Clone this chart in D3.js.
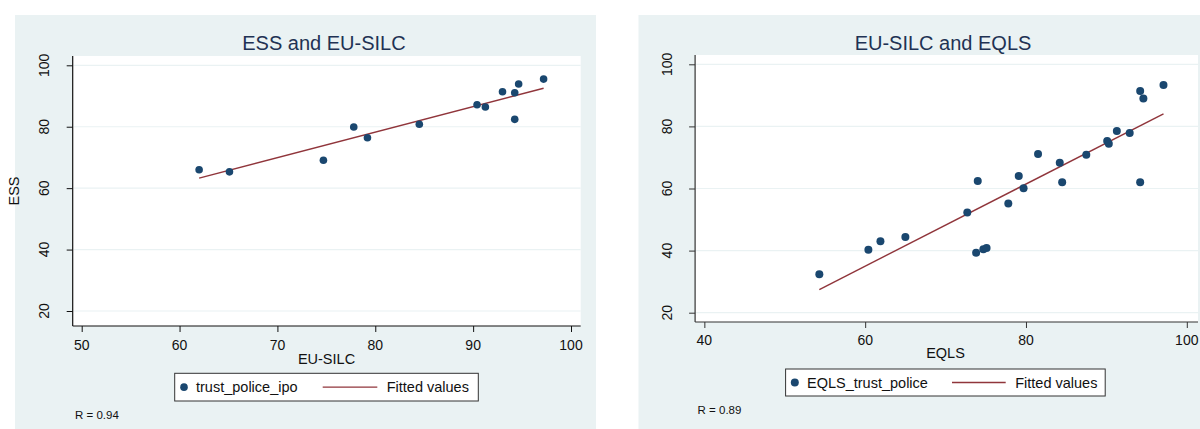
<!DOCTYPE html>
<html>
<head>
<meta charset="utf-8">
<script src="https://cdn.jsdelivr.net/npm/d3@7"></script>
<style>
  html, body { margin: 0; padding: 0; background: #ffffff; }
  svg { display: block; font-family: "Liberation Sans", Arial, sans-serif; }
</style>
</head>
<body>
<svg id="chart" width="1200" height="429"></svg>
<script>
// ---------- DATA ----------
// Panel 1: ESS vs EU-SILC
const silcX = [62.0, 65.1, 74.7, 77.8, 79.2, 84.5, 90.4, 91.25, 93.0, 94.25, 94.65, 94.25, 97.2];
const essY  = [66.0, 65.3, 69.1, 79.9, 76.4, 80.8, 87.15, 86.4, 91.4, 91.05, 93.9, 82.4, 95.5];
// Panel 2: EU-SILC vs EQLS
const eqlsX = [54.3, 60.4, 61.9, 65.0, 72.7, 74.0, 73.8, 74.7, 75.1, 77.8, 79.1, 79.7,
               84.2, 84.5, 94.2, 81.5, 87.5, 90.1, 90.3, 91.3, 92.9, 94.2, 94.6, 97.1];
const silcY = [32.4, 40.3, 43.0, 44.4, 52.3, 62.4, 39.3, 40.4, 40.8, 55.2, 64.0, 60.1,
               68.3, 62.0, 62.0, 71.1, 70.9, 75.3, 74.4, 78.5, 77.9, 91.4, 89.0, 93.3];

const yTicks = [20, 40, 60, 80, 100];
const xTicks1 = [50, 60, 70, 80, 90, 100];
const xTicks2 = [40, 60, 80, 100];

const titles = ["ESS and EU-SILC", "EU-SILC and EQLS"];
const xTitles = ["EU-SILC", "EQLS"];
const yTitles = ["ESS", ""];
const legendLabels = [["trust_police_ipo", "Fitted values"], ["EQLS_trust_police", "Fitted values"]];
const rTexts = ["R = 0.94", "R = 0.89"];

// ---------- STYLE ----------
const BG = "#eaf2f3";
const NAVY = "#1a476f";
const MAROON = "#90353b";
const TITLE = "#1f3254";

const svg = d3.select("#chart");

function fit(xs, ys) {
  const mx = d3.mean(xs), my = d3.mean(ys);
  let sxy = 0, sxx = 0;
  xs.forEach((x, i) => { sxy += (x - mx) * (ys[i] - my); sxx += (x - mx) * (x - mx); });
  const b = sxy / sxx, a = my - b * mx;
  return x => a + b * x;
}

const panels = [
  {
    xs: silcX, ys: essY, xTicks: xTicks1,
    bg: [15, 15, 596, 429],
    plot: [72.7, 56, 580.7, 326],
    xDom: [50, 100], xRng: [81.7, 571],
    yDom: [20, 100], yRng: [311, 65.3],
    titleX: 324, titleY: 49.5,
    tickLabelY: 349.5, xTitleX: 326.5, xTitleY: 363.5,
    yLabelX: 49, yTitleX: 18.5,
    legend: [174.7, 373.3, 478.3, 401], legMarkX: 184, legText1: 196, legLine: [322.7, 377.3], legText2: 386.7,
    rX: 75, rY: 419,
    r: 3.8, axisColor: "#111"
  },
  {
    xs: eqlsX, ys: silcY, xTicks: xTicks2,
    bg: [638.5, 15, 1200, 429],
    plot: [695.1, 55, 1198, 322],
    xDom: [40, 100], xRng: [704.35, 1186.8],
    yDom: [20, 100], yRng: [312.7, 64.3],
    titleX: 943, titleY: 49.5,
    tickLabelY: 344.5, xTitleX: 945.5, xTitleY: 358,
    yLabelX: 671.5, yTitleX: null,
    legend: [785.6, 369, 1105.2, 396], legMarkX: 794.8, legText1: 807, legLine: [952, 1005.7], legText2: 1015.2,
    rX: 697.6, rY: 413.5,
    r: 4, axisColor: "#333"
  }
];

panels.forEach((p, k) => {
  const g = svg.append("g");
  // panel background
  g.append("rect").attr("x", p.bg[0]).attr("y", p.bg[1])
    .attr("width", p.bg[2] - p.bg[0]).attr("height", p.bg[3] - p.bg[1]).attr("fill", BG);
  // plot region
  g.append("rect").attr("x", p.plot[0]).attr("y", p.plot[1])
    .attr("width", p.plot[2] - p.plot[0]).attr("height", p.plot[3] - p.plot[1]).attr("fill", "#ffffff");

  const x = d3.scaleLinear().domain(p.xDom).range(p.xRng);
  const y = d3.scaleLinear().domain(p.yDom).range(p.yRng);

  // gridlines
  g.selectAll(".grid").data(yTicks).enter().append("line")
    .attr("x1", p.plot[0] + 1).attr("x2", p.plot[2])
    .attr("y1", d => y(d)).attr("y2", d => y(d))
    .attr("stroke", BG).attr("stroke-width", 1.2);

  // y axis
  const yAxis = d3.axisLeft(y).tickValues(yTicks).tickSize(6).tickFormat("");
  const ya = g.append("g").attr("transform", `translate(${p.plot[0]},0)`).call(yAxis);
  ya.select(".domain").remove();
  ya.selectAll(".tick line").attr("stroke", p.axisColor);
  g.append("line").attr("x1", p.plot[0]).attr("x2", p.plot[0])
    .attr("y1", p.plot[1]).attr("y2", p.plot[3]).attr("stroke", p.axisColor).attr("stroke-width", 1.2);
  g.selectAll(".ylab").data(yTicks).enter().append("text")
    .attr("transform", d => `translate(${p.yLabelX},${y(d)}) rotate(-90)`)
    .attr("text-anchor", "middle").attr("font-size", 14).attr("fill", "#111").text(d => d);

  // x axis
  const xAxis = d3.axisBottom(x).tickValues(p.xTicks).tickSize(6).tickFormat("");
  const xa = g.append("g").attr("transform", `translate(0,${p.plot[3]})`).call(xAxis);
  xa.select(".domain").remove();
  xa.selectAll(".tick line").attr("stroke", p.axisColor);
  g.append("line").attr("x1", p.plot[0]).attr("x2", p.plot[2])
    .attr("y1", p.plot[3]).attr("y2", p.plot[3]).attr("stroke", p.axisColor).attr("stroke-width", 1.2);
  g.selectAll(".xlab").data(p.xTicks).enter().append("text")
    .attr("x", d => x(d)).attr("y", p.tickLabelY)
    .attr("text-anchor", "middle").attr("font-size", 14).attr("fill", "#111").text(d => d);

  // axis titles
  g.append("text").attr("x", p.xTitleX).attr("y", p.xTitleY).attr("text-anchor", "middle")
    .attr("font-size", 14.5).attr("fill", "#111").text(xTitles[k]);
  if (p.yTitleX !== null && yTitles[k]) {
    const cy = (p.plot[1] + p.plot[3]) / 2;
    g.append("text").attr("transform", `translate(${p.yTitleX},${cy}) rotate(-90)`)
      .attr("text-anchor", "middle").attr("font-size", 14.5).attr("fill", "#111").text(yTitles[k]);
  }

  // title
  g.append("text").attr("x", p.titleX).attr("y", p.titleY).attr("text-anchor", "middle")
    .attr("font-size", 20).attr("fill", TITLE).text(titles[k]);

  // fitted line
  const f = fit(p.xs, p.ys);
  const [mn, mx] = d3.extent(p.xs);
  g.append("line").attr("x1", x(mn)).attr("y1", y(f(mn))).attr("x2", x(mx)).attr("y2", y(f(mx)))
    .attr("stroke", MAROON).attr("stroke-width", 1.4);

  // points
  g.selectAll(".pt").data(p.xs.map((v, i) => [v, p.ys[i]])).enter().append("circle")
    .attr("cx", d => x(d[0])).attr("cy", d => y(d[1])).attr("r", p.r).attr("fill", NAVY);

  // legend
  const L = p.legend;
  const lc = (L[1] + L[3]) / 2;
  g.append("rect").attr("x", L[0]).attr("y", L[1]).attr("width", L[2] - L[0]).attr("height", L[3] - L[1])
    .attr("fill", "#ffffff").attr("stroke", "#333").attr("stroke-width", 1);
  g.append("circle").attr("cx", p.legMarkX).attr("cy", lc).attr("r", p.r).attr("fill", NAVY);
  g.append("text").attr("x", p.legText1).attr("y", lc + 5.2).attr("font-size", 14.5).attr("fill", "#111")
    .text(legendLabels[k][0]);
  g.append("line").attr("x1", p.legLine[0]).attr("x2", p.legLine[1]).attr("y1", lc).attr("y2", lc)
    .attr("stroke", MAROON).attr("stroke-width", 1.4);
  g.append("text").attr("x", p.legText2).attr("y", lc + 5.2).attr("font-size", 14.5).attr("fill", "#111")
    .text(legendLabels[k][1]);

  // R note
  g.append("text").attr("x", p.rX).attr("y", p.rY).attr("font-size", 11.5).attr("fill", "#111").text(rTexts[k]);
});
</script>
</body>
</html>
